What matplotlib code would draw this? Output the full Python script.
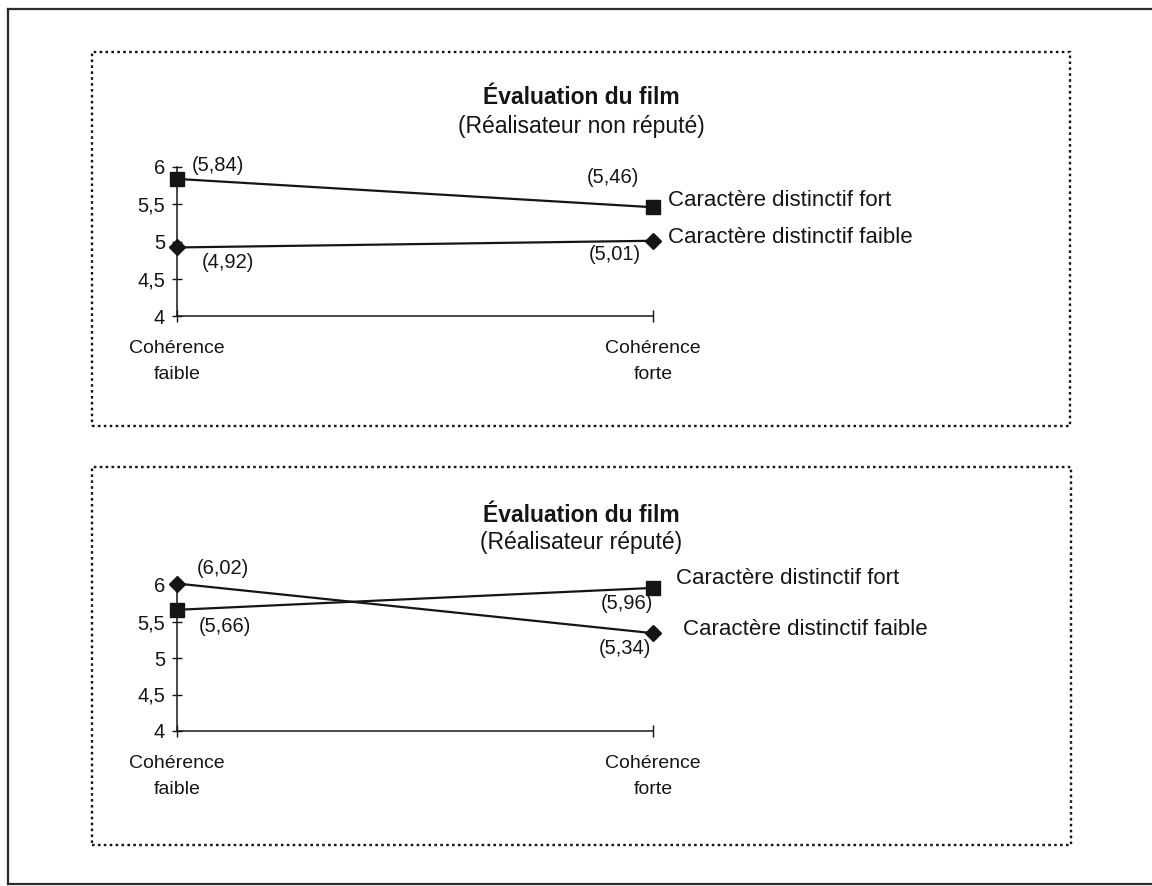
import matplotlib
matplotlib.use("Agg")
import matplotlib.pyplot as plt
from matplotlib.patches import Rectangle
from matplotlib.lines import Line2D

plt.rcParams['font.family'] = ['Liberation Sans', 'DejaVu Sans']

W, H = 1152, 886
INK = "#151515"

# ---- data -------------------------------------------------------------
categories = ["Cohérence\nfaible", "Cohérence\nforte"]
y_ticks = [4, 4.5, 5, 5.5, 6]
y_tick_labels = ["4", "4,5", "5", "5,5", "6"]
series_names = ["Caractère distinctif fort", "Caractère distinctif faible"]

title = "Évaluation du film"
subtitles = ["(Réalisateur non réputé)", "(Réalisateur réputé)"]

# director not renowned
fort_non_repute = [5.84, 5.46]
faible_non_repute = [4.92, 5.01]
# renowned director
fort_repute = [5.66, 5.96]
faible_repute = [6.02, 5.34]

# ---- layout -----------------------------------------------------------
fig = plt.figure(figsize=(W / 100, H / 100), dpi=100)


def fx(px):
    return px / W


def fy(py):
    return 1 - py / H


def axes_px(x0, x1, ytop, ybot):
    return fig.add_axes([fx(x0), fy(ybot), (x1 - x0) / W, (ybot - ytop) / H])


def fmt(v):
    return "(" + f"{v:.2f}".replace(".", ",") + ")"


# outer frame (right side runs off the sheet)
for xs, ys in [((8, 8), (9, 884)), ((8, W + 5), (9, 9)), ((8, W + 5), (884, 884))]:
    fig.add_artist(Line2D([fx(x) for x in xs], [fy(y) for y in ys],
                          transform=fig.transFigure, color="#2a2a2a", lw=1.6))

panels = [
    dict(fort=fort_non_repute, faible=faible_non_repute, sub=subtitles[0],
         box=(92, 52, 1070, 426), ax=(177, 653, 167, 316),
         title_y=97, sub_y=126,
         fort_off=[(41, -13), (-40, -30)], faible_off=[(51, 15), (-38, 14)],
         legend_off=[(15, -7), (15, -3)]),
    dict(fort=fort_repute, faible=faible_repute, sub=subtitles[1],
         box=(92, 467, 1071, 845), ax=(177, 653, 585, 731),
         title_y=515, sub_y=543,
         fort_off=[(48, 17), (-26, 16)], faible_off=[(46, -15), (-28, 15)],
         legend_off=[(23, -9), (30, -4)]),
]

for p in panels:
    x0, y0, x1, y1 = p["box"]
    fig.add_artist(Rectangle((fx(x0), fy(y1)), (x1 - x0) / W, (y1 - y0) / H,
                             transform=fig.transFigure, fill=False,
                             edgecolor=INK, lw=1.7, linestyle=(0, (1.1, 1.4))))

    cx = (x0 + x1) / 2
    fig.text(fx(cx), fy(p["title_y"]), title, ha="center", va="center",
             fontsize=16.5, fontweight="bold", color=INK)
    fig.text(fx(cx), fy(p["sub_y"]), p["sub"], ha="center", va="center",
             fontsize=16.5, color=INK)

    ax = axes_px(*p["ax"])
    xs = [0, 1]
    ax.plot(xs, p["fort"], color=INK, lw=1.6, marker="s", ms=10,
            clip_on=False, zorder=3)
    ax.plot(xs, p["faible"], color=INK, lw=1.6, marker="D", ms=8.5,
            clip_on=False, zorder=3)

    ax.set_xlim(0, 1)
    ax.set_ylim(4, 6)
    for s in ("top", "right"):
        ax.spines[s].set_visible(False)
    for s in ("left", "bottom"):
        ax.spines[s].set_color(INK)
        ax.spines[s].set_linewidth(1.1)
    ax.set_yticks(y_ticks, y_tick_labels)
    ax.set_xticks([0, 1], categories)
    ax.tick_params(axis="y", direction="inout", length=7, width=1,
                   pad=5, labelsize=14.5, colors=INK)
    ax.tick_params(axis="x", direction="inout", length=8, width=1,
                   pad=13, labelsize=14, colors=INK)
    for lbl in ax.get_xticklabels():
        lbl.set_linespacing(1.7)
        lbl.set_ha("center")

    for series, offs in ((p["fort"], p["fort_off"]), (p["faible"], p["faible_off"])):
        for x, v, (dx, dy) in zip(xs, series, offs):
            ax.annotate(fmt(v), xy=(x, v), xytext=(dx, -dy),
                        textcoords="offset pixels", ha="center", va="center",
                        fontsize=14.5, color=INK, annotation_clip=False)

    for name, series, (dx, dy) in zip(series_names, (p["fort"], p["faible"]),
                                      p["legend_off"]):
        ax.annotate(name, xy=(1, series[-1]), xytext=(dx, -dy),
                    textcoords="offset pixels", ha="left", va="center",
                    fontsize=16, color=INK, annotation_clip=False)

fig.savefig("out.png", dpi=100, facecolor="white")
